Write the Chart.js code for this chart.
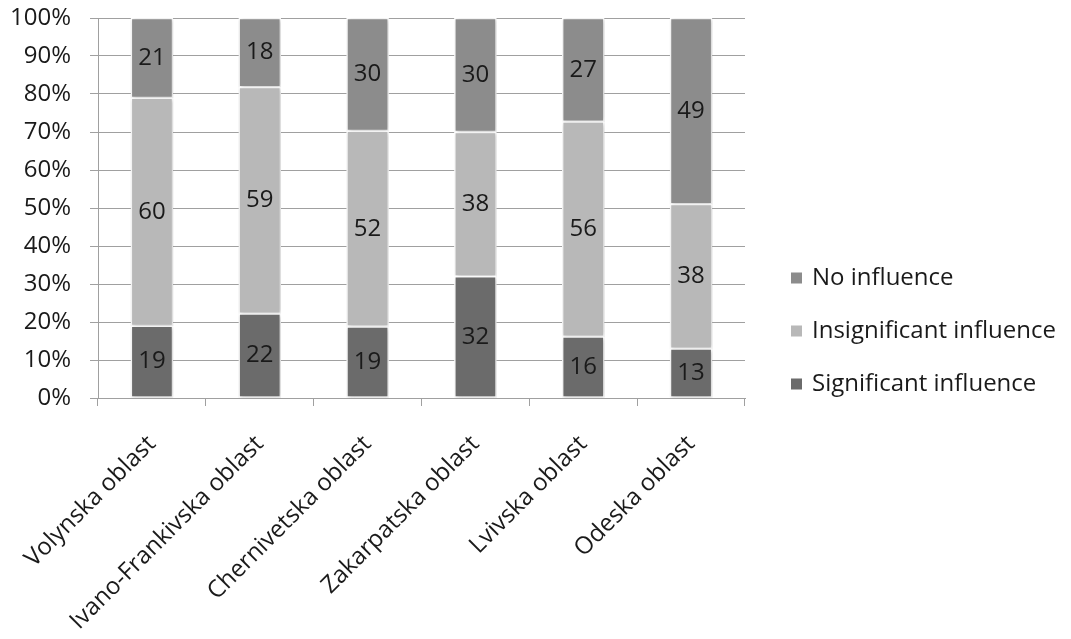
<!DOCTYPE html>
<html>
<head>
<meta charset="utf-8">
<script src="https://cdn.jsdelivr.net/npm/chart.js@4.4.1/dist/chart.umd.min.js"></script>
<style>
  html, body { margin: 0; padding: 0; background: #ffffff; }
  #wrap { width: 1071px; height: 639px; position: relative; }
</style>
</head>
<body>
<div id="wrap"><canvas id="chart" width="1071" height="639"></canvas></div>
<script>
// Regions surveyed
const regions = ['Volynska oblast', 'Ivano-Frankivska oblast', 'Chernivetska oblast',
                 'Zakarpatska oblast', 'Lvivska oblast', 'Odeska oblast'];

// Responses per region (counts as labelled on the bars)
const significant   = [19, 22, 19, 32, 16, 13];
const insignificant = [60, 59, 52, 38, 56, 38];
const noInfluence   = [21, 18, 30, 30, 27, 49];

const seriesNames = ['Significant influence', 'Insignificant influence', 'No influence'];
const yTickLabels = ['0%', '10%', '20%', '30%', '40%', '50%', '60%', '70%', '80%', '90%', '100%'];

const FONT = '"Open Sans", Lato, sans-serif';
const FONT_SIZE = 24;

// 100% stacked: each segment is drawn as its share of the region's total
const totals = regions.map((_, i) => significant[i] + insignificant[i] + noInfluence[i]);
const share = arr => arr.map((v, i) => v / totals[i] * 100);

const colors = ['#6b6b6b', '#b8b8b8', '#8c8c8c'];
const raw = [significant, insignificant, noInfluence];

const datasets = raw.map((arr, k) => ({
  label: seriesNames[k],
  data: share(arr),
  counts: arr,
  backgroundColor: colors[k],
  borderColor: '#ffffff',
  borderWidth: 1.5,
  borderSkipped: false,
  barThickness: 42
}));

// soft drop shadow under the bars
const barShadow = {
  id: 'barShadow',
  beforeDatasetsDraw(chart) {
    const c = chart.ctx;
    c.save();
    c.shadowColor = 'rgba(0,0,0,0.22)';
    c.shadowBlur = 4;
    c.shadowOffsetX = 1;
    c.shadowOffsetY = 1;
  },
  afterDatasetsDraw(chart) {
    chart.ctx.restore();
  }
};

// count labels centred in each segment
const segmentLabels = {
  id: 'segmentLabels',
  afterDatasetsDraw(chart) {
    const c = chart.ctx;
    c.save();
    c.font = FONT_SIZE + 'px ' + FONT;
    c.fillStyle = '#1a1a1a';
    c.textAlign = 'center';
    c.textBaseline = 'middle';
    chart.data.datasets.forEach((ds, di) => {
      const meta = chart.getDatasetMeta(di);
      meta.data.forEach((bar, i) => {
        const p = bar.getProps(['x', 'y', 'base'], true);
        c.fillText(String(ds.counts[i]), p.x, (p.y + p.base) / 2);
      });
    });
    c.restore();
  }
};

// legend on the right, top entry = last stacked series
const sideLegend = {
  id: 'sideLegend',
  afterDraw(chart) {
    const c = chart.ctx;
    c.save();
    c.font = FONT_SIZE + 'px ' + FONT;
    c.textBaseline = 'middle';
    c.textAlign = 'left';
    const items = chart.data.datasets.slice().reverse();
    const x0 = 791, y0 = 278, gap = 53, box = 11;
    items.forEach((ds, j) => {
      const y = y0 + j * gap;
      c.fillStyle = ds.backgroundColor;
      c.fillRect(x0, y - box / 2, box, box);
      c.fillStyle = '#1a1a1a';
      c.fillText(ds.label, x0 + box + 10, y);
    });
    c.restore();
  }
};

new Chart(document.getElementById('chart'), {
  type: 'bar',
  data: { labels: regions, datasets },
  options: {
    responsive: false,
    animation: false,
    events: [],
    layout: { padding: { top: 18, right: 326, left: 0, bottom: 0 } },
    plugins: {
      legend: { display: false },
      tooltip: { enabled: false },
      title: { display: false }
    },
    scales: {
      x: {
        stacked: true,
        afterFit(s) { s.height = 241; s.paddingLeft = 0; s.paddingRight = 0; },
        grid: { offset: true, drawOnChartArea: false, drawTicks: true, tickLength: 8, color: '#a0a0a0', lineWidth: 1 },
        border: { display: true, color: '#a0a0a0', width: 1 },
        ticks: {
          minRotation: 45, maxRotation: 45, autoSkip: false, padding: 24,
          color: '#1a1a1a', font: { family: FONT, size: FONT_SIZE }
        }
      },
      y: {
        stacked: true,
        min: 0, max: 100,
        afterFit(s) { s.width = 98; s.paddingTop = 0; s.paddingBottom = 0; },
        grid: { color: '#a0a0a0', lineWidth: 1, drawTicks: true, tickLength: 8 },
        border: { display: true, color: '#a0a0a0', width: 1 },
        ticks: {
          stepSize: 10, padding: 19,
          color: '#1a1a1a', font: { family: FONT, size: FONT_SIZE },
          callback: (v) => yTickLabels[Math.round(v / 10)]
        }
      }
    }
  },
  plugins: [barShadow, segmentLabels, sideLegend]
});
</script>
</body>
</html>
